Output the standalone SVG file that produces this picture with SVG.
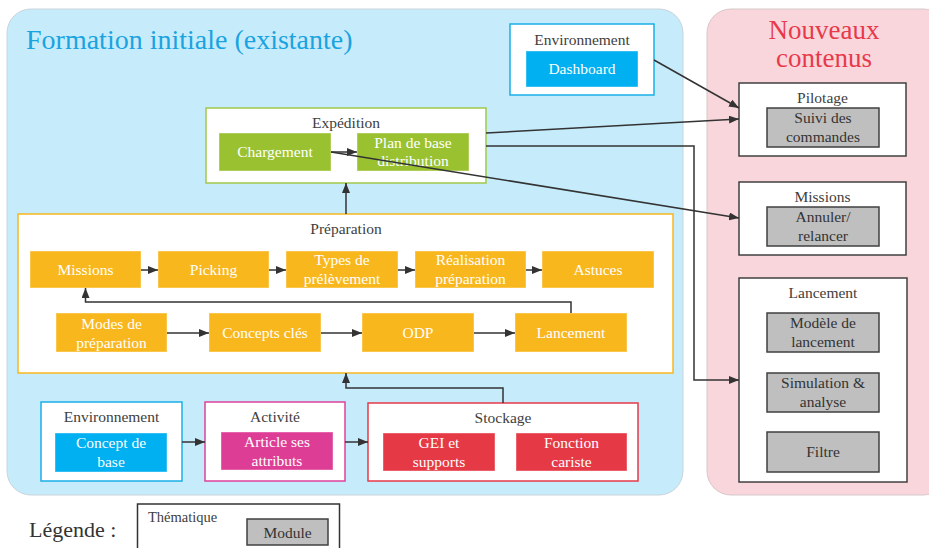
<svg xmlns="http://www.w3.org/2000/svg" width="929" height="548" viewBox="0 0 929 548" font-family="'Liberation Serif', 'DejaVu Serif', serif">
<style>
text{font-family:'Liberation Serif','DejaVu Serif',serif;}
.t{font-size:15.5px;fill:#404040;text-anchor:middle;}
.m{font-size:15.5px;fill:#ffffff;text-anchor:middle;}
.g{font-size:15.5px;fill:#333333;text-anchor:middle;}
.box{fill:#ffffff;stroke-width:1.5;}
.mod{stroke:#ffffff;stroke-opacity:0.4;stroke-width:1;}
.gray{fill:#BFBFBF;stroke:#404040;stroke-width:1.5;}
.c{fill:none;stroke:#333333;stroke-width:1.5;}
</style>
<defs>
<marker id="a" markerUnits="userSpaceOnUse" markerWidth="10" markerHeight="8" refX="10" refY="4" orient="auto">
<path d="M0,0 L10,4 L0,8 z" fill="#333333"/>
</marker>
</defs>

<g id="panels">
<rect x="7" y="9" width="676" height="486" rx="24" fill="#C6ECFC" stroke="#C8D4DA" stroke-width="1"/>
<rect x="707" y="9" width="240" height="486" rx="24" fill="#F8D6DB" stroke="#D6C8CA" stroke-width="1"/>
<text x="26" y="49" style="font-size:28px;fill:#1AA3E0">Formation initiale (existante)</text>
<text x="824" y="39" style="font-size:27px;fill:#E8394A;text-anchor:middle">Nouveaux</text>
<text x="824" y="67" style="font-size:27px;fill:#E8394A;text-anchor:middle">contenus</text>
</g>

<g id="env-dashboard">
<rect class="box" x="510" y="24" width="144" height="71" stroke="#1AAFE6"/>
<text class="t" x="582" y="45">Environnement</text>
<rect class="mod" x="526" y="51" width="112" height="36" fill="#00B0F0"/>
<text class="m" x="582" y="74">Dashboard</text>
</g>

<g id="expedition">
<rect class="box" x="206" y="108" width="280" height="75" stroke="#A2C84A"/>
<text class="t" x="346" y="128">Expédition</text>
<rect class="mod" x="219" y="133" width="112" height="38" fill="#9AC230"/>
<text class="m" x="275" y="157">Chargement</text>
<rect class="mod" x="357" y="133" width="112" height="38" fill="#9AC230"/>
<text class="m" x="413" y="148">Plan de base</text>
<text class="m" x="413" y="166">distribution</text>
</g>

<g id="preparation">
<rect class="box" x="18" y="214" width="655" height="159" stroke="#F9B71E"/>
<text class="t" x="346" y="234">Préparation</text>
<rect class="mod" x="30" y="251" width="111" height="37" fill="#F9B71E"/>
<text class="m" x="85.5" y="275">Missions</text>
<rect class="mod" x="158" y="251" width="111" height="37" fill="#F9B71E"/>
<text class="m" x="213.5" y="275">Picking</text>
<rect class="mod" x="286" y="251" width="112" height="37" fill="#F9B71E"/>
<text class="m" x="342" y="265">Types de</text>
<text class="m" x="342" y="284">prélèvement</text>
<rect class="mod" x="415" y="251" width="111" height="37" fill="#F9B71E"/>
<text class="m" x="470.5" y="265">Réalisation</text>
<text class="m" x="470.5" y="284">préparation</text>
<rect class="mod" x="542" y="251" width="112" height="37" fill="#F9B71E"/>
<text class="m" x="598" y="275">Astuces</text>
<rect class="mod" x="56" y="313" width="111" height="39" fill="#F9B71E"/>
<text class="m" x="111.5" y="329">Modes de</text>
<text class="m" x="111.5" y="348">préparation</text>
<rect class="mod" x="209" y="313" width="112" height="39" fill="#F9B71E"/>
<text class="m" x="265" y="338">Concepts clés</text>
<rect class="mod" x="362" y="313" width="112" height="39" fill="#F9B71E"/>
<text class="m" x="418" y="338">ODP</text>
<rect class="mod" x="515" y="313" width="112" height="39" fill="#F9B71E"/>
<text class="m" x="571" y="338">Lancement</text>
</g>

<g id="env-concept">
<rect class="box" x="41" y="402" width="141" height="79" stroke="#1AAFE6"/>
<text class="t" x="111.5" y="422">Environnement</text>
<rect class="mod" x="55" y="433" width="112" height="39" fill="#00B0F0"/>
<text class="m" x="111" y="448">Concept de</text>
<text class="m" x="111" y="467">base</text>
</g>

<g id="activite">
<rect class="box" x="205" y="402" width="140" height="79" stroke="#E0409A"/>
<text class="t" x="275" y="422">Activité</text>
<rect class="mod" x="221" y="432" width="112" height="38" fill="#DE3D96"/>
<text class="m" x="277" y="447">Article ses</text>
<text class="m" x="277" y="466">attributs</text>
</g>

<g id="stockage">
<rect class="box" x="368" y="403" width="270" height="78" stroke="#E8394A"/>
<text class="t" x="503" y="423">Stockage</text>
<rect class="mod" x="383" y="433" width="112" height="38" fill="#E63946"/>
<text class="m" x="439" y="448">GEI et</text>
<text class="m" x="439" y="467">supports</text>
<rect class="mod" x="516" y="433" width="111" height="38" fill="#E63946"/>
<text class="m" x="571.5" y="448">Fonction</text>
<text class="m" x="571.5" y="467">cariste</text>
</g>

<g id="pilotage">
<rect class="box" x="739" y="83" width="167" height="73" stroke="#404040"/>
<text class="t" x="822.5" y="103">Pilotage</text>
<rect class="gray" x="767" y="108" width="112" height="39"/>
<text class="g" x="823" y="123">Suivi des</text>
<text class="g" x="823" y="142">commandes</text>
</g>

<g id="missions-new">
<rect class="box" x="739" y="182" width="167" height="73" stroke="#404040"/>
<text class="t" x="822.5" y="202">Missions</text>
<rect class="gray" x="767" y="207" width="112" height="39"/>
<text class="g" x="823" y="222">Annuler/</text>
<text class="g" x="823" y="241">relancer</text>
</g>

<g id="lancement-new">
<rect class="box" x="739" y="278" width="168" height="204" stroke="#404040"/>
<text class="t" x="823" y="298">Lancement</text>
<rect class="gray" x="767" y="313" width="112" height="39"/>
<text class="g" x="823" y="328">Modèle de</text>
<text class="g" x="823" y="347">lancement</text>
<rect class="gray" x="767" y="373" width="112" height="39"/>
<text class="g" x="823" y="388">Simulation &amp;</text>
<text class="g" x="823" y="407">analyse</text>
<rect class="gray" x="767" y="432" width="112" height="40"/>
<text class="g" x="823" y="457">Filtre</text>
</g>

<g id="legend">
<text x="29" y="537" style="font-size:22px;fill:#333333">Légende :</text>
<rect x="137.5" y="504" width="202" height="50" fill="#ffffff" stroke="#333333" stroke-width="1.5"/>
<text x="148" y="522" style="font-size:14.5px;fill:#404040">Thématique</text>
<rect class="gray" x="247" y="519" width="81" height="26"/>
<text class="g" x="287.5" y="538">Module</text>
</g>

<g id="connectors">
<line class="c" x1="331" y1="152" x2="357" y2="152" marker-end="url(#a)"/>
<line class="c" x1="331" y1="152" x2="739" y2="218" marker-end="url(#a)"/>
<line class="c" x1="486" y1="133" x2="739" y2="119" marker-end="url(#a)"/>
<polyline class="c" points="486,146 694,146 694,380 739,380" marker-end="url(#a)"/>
<line class="c" x1="654" y1="60" x2="739" y2="108" marker-end="url(#a)"/>
<line class="c" x1="346" y1="214" x2="346" y2="183" marker-end="url(#a)"/>
<line class="c" x1="141" y1="270" x2="158" y2="270" marker-end="url(#a)"/>
<line class="c" x1="269" y1="270" x2="286" y2="270" marker-end="url(#a)"/>
<line class="c" x1="398" y1="270" x2="415" y2="270" marker-end="url(#a)"/>
<line class="c" x1="526" y1="270" x2="542" y2="270" marker-end="url(#a)"/>
<line class="c" x1="167" y1="333" x2="209" y2="333" marker-end="url(#a)"/>
<line class="c" x1="321" y1="333" x2="362" y2="333" marker-end="url(#a)"/>
<line class="c" x1="474" y1="333" x2="515" y2="333" marker-end="url(#a)"/>
<polyline class="c" points="571,313 571,302 85.5,302 85.5,288" marker-end="url(#a)"/>
<line class="c" x1="182" y1="442" x2="205" y2="442" marker-end="url(#a)"/>
<line class="c" x1="345" y1="442" x2="368" y2="442" marker-end="url(#a)"/>
<polyline class="c" points="503,403 503,388 346,388 346,373" marker-end="url(#a)"/>
</g>
</svg>
